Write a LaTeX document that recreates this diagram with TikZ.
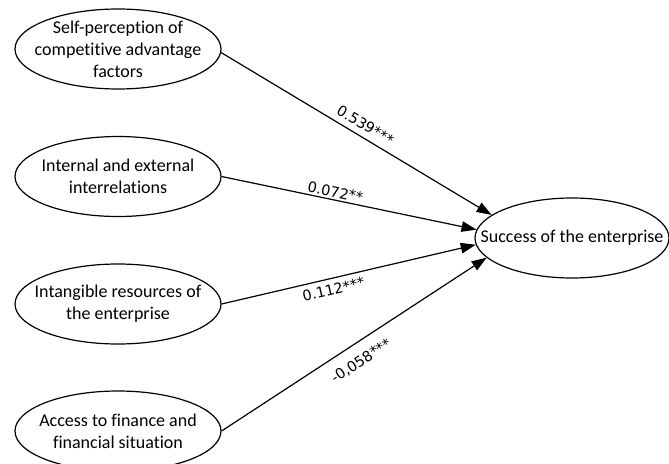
\documentclass[tikz,border=0pt]{standalone}
\usepackage{fontspec}
\setmainfont[Ligatures={NoCommon,NoRequired,NoContextual},Contextuals=NoAlternate]{Carlito}
\newfontfamily\lblfont{DejaVu Sans}
\usetikzlibrary{shapes.geometric,arrows.meta}
\begin{document}
\begin{tikzpicture}[x=1pt,y=-1pt,
  ell/.style={ellipse,draw,line width=1.2pt,inner sep=0pt},
  small/.style={ell,minimum width=206pt,minimum height=80pt},
  txt/.style={align=center,font=\fontsize{18}{22}\selectfont,inner sep=0pt},
  lbl/.style={font=\lblfont\fontsize{14.5}{16}\selectfont,sloped,inner sep=2pt},
  arr/.style={line width=1.2pt,-{Triangle[length=15pt,width=10.5pt]}}]
\useasboundingbox (0,0) rectangle (669,463);
\node[small,label={[txt]center:Self-perception of\\competitive advantage\\factors}] (e1) at (118,49) {};
\node[small,label={[txt]center:Internal and external\\interrelations}] (e2) at (118,176.5) {};
\node[small,label={[txt]center:Intangible resources of\\the enterprise}] (e3) at (118,304) {};
\node[small,label={[txt]center:Access to finance and\\financial situation}] (e4) at (118,431) {};
\node[ell,minimum width=194pt,minimum height=80pt,label={[txt]center:Success of the enterprise}] (s) at (572,238) {};
\draw[arr] (e1.-2) -- node[lbl,pos=0.51,above,inner sep=6pt]{0.539***} (s.164.7);
\draw[arr] (e2.0) -- node[lbl,pos=0.44,above]{0.072**} (s.175.3);
\draw[arr] (e3.0) -- node[lbl,pos=0.43,below,inner sep=5pt]{0.112***} (s.184.1);
\draw[arr] (e4.0) -- node[lbl,pos=0.49,below,inner sep=11pt]{-0,058***} (s.193.2);
\end{tikzpicture}
\end{document}
